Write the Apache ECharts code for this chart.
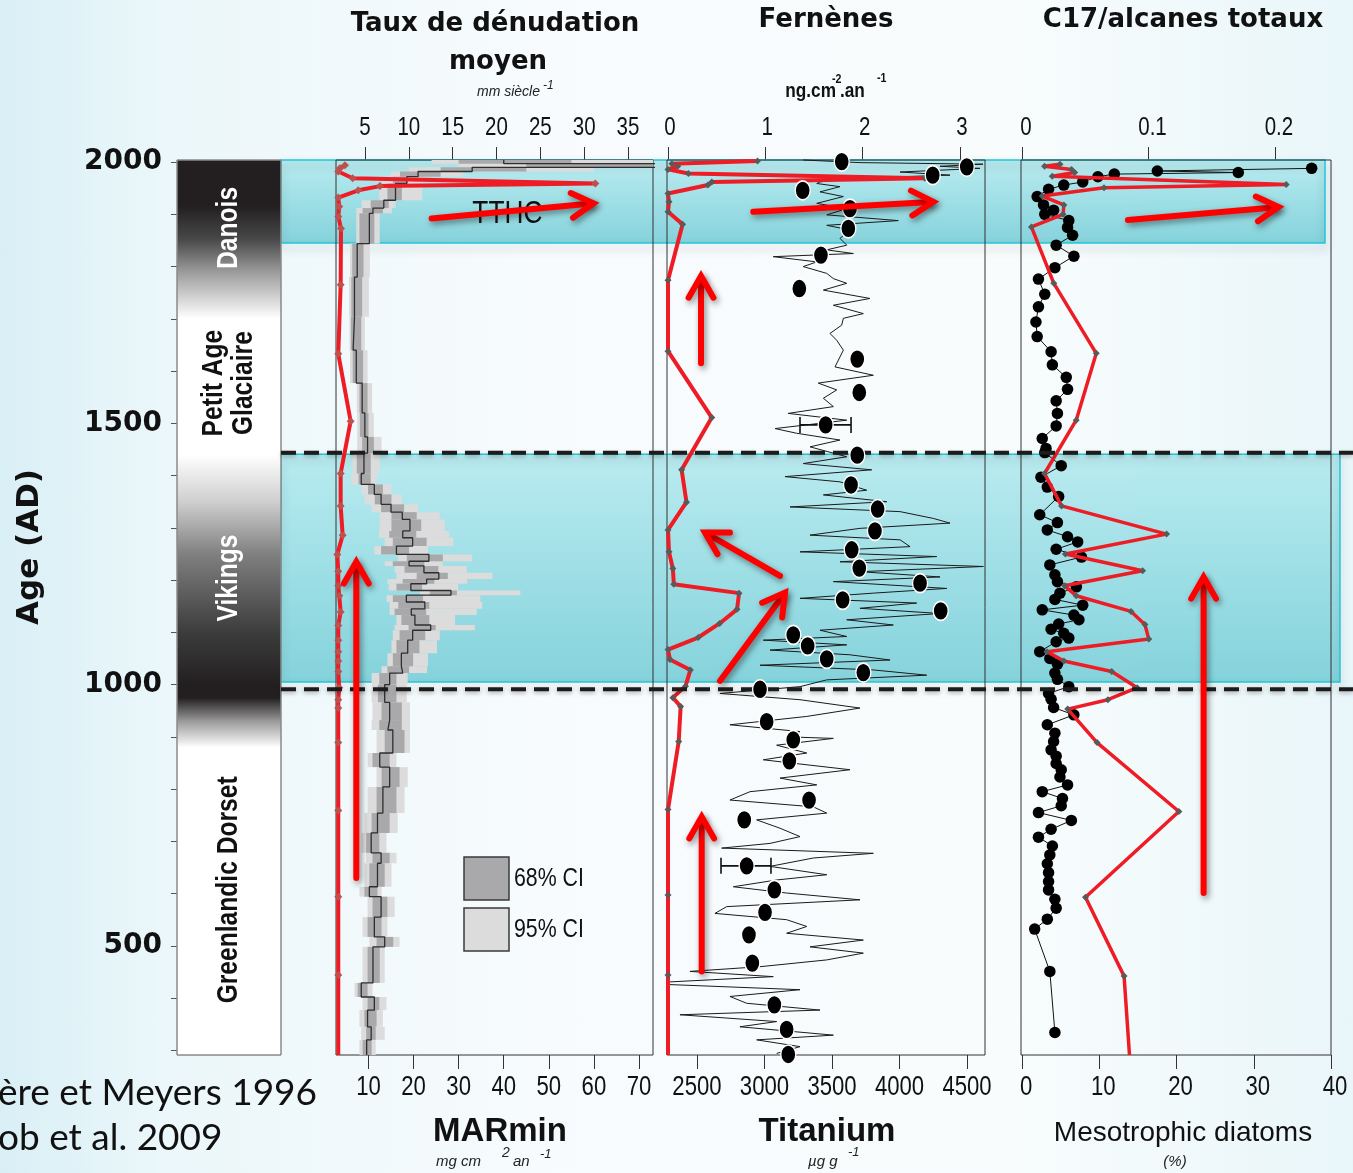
<!DOCTYPE html>
<html><head><meta charset="utf-8">
<script src="https://cdn.jsdelivr.net/npm/echarts@6/dist/echarts.min.js"></script>
<style>
html,body{margin:0;padding:0;width:1353px;height:1173px;overflow:hidden;
background:linear-gradient(90deg,#d9eff6 0%,#ebf7fa 12%,#f7fbfd 40%,#f8fcfd 75%,#e9f6f9 100%);}
#c{width:1353px;height:1173px;}
</style></head><body><div id="c"></div>
<script>
// ================= DATA =================
const AGE_MIN = 291, AGE_MAX = 2004;
const ageTicks = [300,400,500,600,700,800,900,1000,1100,1200,1300,1400,1500,1600,1700,1800,1900,2000];
const ageLabels = [500,1000,1500,2000];

const tauxTicks = [5,10,15,20,25,30,35];
const marTicks = [10,20,30,40,50,60,70];
const fernTicks = [0,1,2,3];
const tiTicks = [2500,3000,3500,4000,4500];
const c17Ticks = [0,0.1,0.2];
const diaTicks = [0,10,20,30,40];

// cultural periods
const periodNames = ['Danois','Petit Age\nGlaciaire','Vikings','Greenlandic Dorset'];
const periodLabelAge = [1874,1577,1204,607];
const shadeAge = [2004,1915,1850,1790,1700,1440,1350,1250,1100,1000,975,930,880,291];

// highlighted intervals & boundaries
const bandAges = [[2004,1845],[1441,1005]];
const dashAges = [1443.5,991];

// Panel 1 : Taux de dénudation moyen (mm/siècle)
const tauxAge = [1994,1988,1982,1969,1959,1954,1946,1932,1915,1896,1873,1765,1633,1504,1404,1342,1286,1249,1217,1189,1170,1139,1113,1085,1063,1045,1025,994,971,955,889,759,594,444,291];
const tauxVal = [2.71,2.14,1.95,3.59,31.27,6.71,4.23,1.95,2.06,1.95,2.26,2.22,1.95,3.36,2.22,2.22,2.45,1.84,1.95,1.95,2.06,2.22,1.95,1.95,1.95,1.95,1.95,2.06,1.95,1.95,1.95,1.95,1.95,1.95,1.95];

// Panel 1 : MARmin median + confidence intervals (age bins)
const marEdges = [2004,1997,1990,1982,1972,1959,1927,1912,1902,1844,1780,1704,1640,1577,1520,1474,1443,1404,1383,1364,1345,1330,1316,1294,1281,1265,1249,1236,1227,1214,1202,1193,1180,1171,1158,1145,1133,1114,1104,1085,1060,1035,1022,1000,966,932,913,869,842,804,754,716,678,658,613,594,555,517,498,429,402,377,345,320,291];
const marMed = [40,74,33,21,18.5,16,13.4,11,10.2,7.5,6.9,6.6,7.3,8.6,9.2,9.8,9.0,8.4,11.3,12.8,15,17.5,19.2,17.6,19.8,16.2,23.4,19.0,22.3,25.6,22.9,19.4,28.3,18.4,22.5,19.5,20.3,23.8,19.8,18.7,17.3,17.6,14.7,13.6,14.7,14.3,15.4,12.5,14.7,13.2,12.0,10.6,12.8,12.0,10.2,12.8,11.3,13.6,11.0,8.4,11.3,9.8,10.6,9.6];
const mar68lo = [30,45,26,17,15.4,14.2,10.5,8.7,8.0,6.4,6.2,6.1,6.5,8.0,8.1,8.6,7.4,7.8,9.9,11.4,12.8,15.1,15.1,14.6,15.4,12.8,18.5,15.4,18.0,20.7,17.6,16.2,23.6,15.4,16.6,15.8,17.3,18.9,16.9,16.2,15.4,14.2,12.4,12.1,12.9,12.4,13.6,10.9,12.9,11.8,10.7,9.5,10.9,10.2,9.1,10.9,9.8,11.8,9.8,7.6,9.8,9.1,9.5,8.7];
const mar68hi = [55,75,45,26,18.8,17.4,14.5,13.2,11.3,8.9,8.6,8.4,8.8,9.8,10.0,11.2,10.5,10.5,13.2,15.1,17.9,20.7,21.7,20.6,22.9,19.0,26.5,22.4,25.5,27.6,24.6,21.9,29.6,22.1,23.5,22.8,23.5,24.9,22.6,21.3,19.9,19.0,16.2,16.2,17.4,17.4,18.0,14.7,16.9,16.2,14.7,12.4,14.7,13.6,12.0,14.2,12.9,15.5,12.5,9.8,12.4,11.8,11.6,10.7];
const mar95lo = [24,30,19,15,13,12.4,8.5,7.3,7.3,5.9,5.7,5.8,5.9,7.4,7.5,7.5,6.5,6.2,8.4,9.1,10.7,12.5,12.5,12.3,13.6,11.3,16.5,13.6,15.8,16.2,14.2,14.5,21.4,14.0,14.7,14.7,16.2,15.8,15.4,15.1,14.2,12.9,10.7,10.7,10.9,10.7,11.8,9.8,11.8,9.8,9.1,8.4,9.5,9.1,8.0,9.8,8.7,10.2,8.7,6.9,8.7,8.0,8.4,8.0];
const mar95hi = [75,75,60,31,22,21.9,16,15.2,12.5,10.3,10.1,9.2,9.8,10.8,11.2,12.9,12.5,11.8,15.1,17.4,21,25.8,26.9,27.9,28.8,23.2,33.0,26.5,31.8,37.5,31.9,29.9,43.7,34.8,35.2,34.0,29.2,33.6,25.8,25.2,23.2,23.0,18.7,18.5,19.2,19.2,19.2,16.2,18.7,18.0,16.5,14.0,16.2,15.1,12.9,15.8,14.2,16.9,13.6,10.9,14.0,13.2,13.6,11.6];

// Panel 2 : Fernènes (ng cm-2 an-1)
const fernAge = [2002,1997,1992,1986,1978,1969,1962,1956,1940,1924,1905,1881,1774,1638,1511,1411,1349,1296,1254,1222,1192,1175,1144,1117,1090,1067,1048,1028,997,975,958,891,761,597,444,291];
const fernVal = [0.92,0.04,0.10,0,0.21,2.64,0.45,0.41,0,0.01,0,0.15,0,0,0.45,0.14,0.19,0,0.01,0.05,0.06,0.73,0.71,0.53,0.31,0,0.02,0.23,0.18,0.05,0.13,0.11,0,0,0,0];

// Panel 2 : Titanium (µg/g) high-resolution record
const tiAge = [2004,1999,1996,1992,1988,1981,1975,1969,1962,1959,1953,1943,1934,1921,1911,1899,1888,1879,1870,1854,1841,1832,1825,1819,1809,1800,1787,1777,1768,1755,1739,1726,1710,1701,1688,1672,1659,1640,1608,1592,1577,1564,1548,1532,1519,1506,1490,1481,1468,1455,1436,1423,1411,1398,1388,1372,1363,1350,1340,1331,1318,1309,1299,1286,1277,1264,1254,1245,1235,1226,1216,1206,1197,1184,1175,1165,1156,1146,1136,1124,1114,1104,1092,1085,1076,1066,1057,1047,1037,1028,1018,1009,996,983,971,955,939,923,910,900,897,884,869,856,837,821,808,795,779,766,754,741,725,709,696,687,677,668,652,636,626,613,601,588,575,562,550,537,524,511,498,486,473,460,451,441,428,416,403,390,377,368,355,345,329,320,307,294];
const tiVal = [3287,3707,4618,4300,4596,4004,4374,3633,3411,3387,3559,3411,3584,3387,3609,3461,3991,3461,3633,3559,3609,3461,3658,3065,3387,3287,3461,3510,3609,3436,3781,3510,3732,3584,3572,3485,3535,3584,3522,3806,3398,3535,3436,3510,3176,3609,3078,3238,3559,3337,3609,3287,3794,3152,3559,3757,3436,3905,3189,4004,4250,4374,3707,3337,4004,4078,3263,4275,3559,4621,3707,4300,3510,4350,3806,3263,4127,3707,4300,3609,3954,3411,3609,2991,3609,3041,3633,3930,2967,3806,4201,3461,3263,2670,3263,3707,3313,2744,3263,3164,3510,3090,3313,2991,3633,3115,3387,2893,2744,3361,3461,2942,3115,3263,3041,2683,3806,3361,3041,3461,3090,2769,3164,3707,2720,2633,3164,3313,3164,3732,3337,3732,3461,2967,2448,3065,2078,3263,2744,2868,3411,2374,3090,2818,3510,2942,3263,3090];

// Panel 2 : Titanium dated samples (dots) and two error bars
const dotAge = [2001,1991,1975,1946,1911,1873,1822,1758,1623,1559,1497,1439,1382,1336,1294,1258,1223,1194,1162,1141,1095,1074,1049,1023,991,929,894,854,779,741,653,607,564,521,467,387,340,292];
const dotTi = [3572,4498,4246,3283,3633,3621,3418,3258,3687,3702,3453,3687,3641,3838,3818,3646,3702,4152,3579,4305,3213,3320,3461,3732,2967,3016,3213,3184,3330,2850,2868,3073,3004,2885,2910,3073,3164,3176];
const errAge = [1497,653];
const errLo = [3263,2678];
const errHi = [3641,3048];

// Panel 3 : C17 / alcanes totaux
const c17Age = [1988,1983,1980,1977,1972,1962,1956,1948,1934,1918,1908,1900,1888,1875,1860,1841,1820,1798,1776,1747,1723,1694,1666,1637,1612,1588,1565,1543,1519,1495,1471,1452,1444,1419,1397,1378,1360,1325,1310,1296,1283,1273,1259,1244,1229,1210,1197,1187,1175,1163,1152,1143,1133,1124,1116,1106,1098,1089,1082,1063,1050,1039,1022,1010,996,983,972,956,942,923,907,891,875,863,849,837,823,808,795,782,768,755,740,723,708,691,674,657,640,623,607,589,572,551,532,451,334];
const c17Val = [0.229,0.107,0.171,0.073,0.060,0.048,0.033,0.021,0.012,0.017,0.025,0.018,0.037,0.036,0.040,0.027,0.041,0.026,0.013,0.018,0.013,0.011,0.012,0.023,0.024,0.035,0.036,0.027,0.028,0.027,0.016,0.019,0.018,0.031,0.015,0.020,0.029,0.014,0.028,0.020,0.036,0.044,0.027,0.047,0.022,0.026,0.028,0.043,0.030,0.026,0.048,0.016,0.041,0.045,0.029,0.023,0.033,0.037,0.027,0.014,0.022,0.028,0.026,0.028,0.037,0.021,0.023,0.025,0.041,0.020,0.026,0.025,0.023,0.027,0.027,0.031,0.030,0.036,0.016,0.032,0.031,0.013,0.039,0.023,0.013,0.024,0.022,0.020,0.021,0.021,0.021,0.026,0.027,0.020,0.010,0.022,0.026];

// Panel 3 : Mesotrophic diatoms (%)
const diaAge = [1996,1992,1986,1980,1973,1957,1951,1935,1918,1900,1876,1768,1634,1506,1404,1342,1288,1250,1218,1189,1170,1140,1115,1087,1063,1045,1025,994,971,953,889,757,593,442,291];
const diaVal = [4.9,2.9,6.4,6.8,3.9,34.2,10.6,2.6,5.4,5.3,1.2,4.1,9.6,7.0,2.9,5.1,18.7,5.6,15.6,5.5,7.0,14.1,15.9,16.4,3.2,5.4,11.6,14.9,11.1,5.9,9.7,20.3,8.2,13.2,13.9];

// Annotation arrows [xStart, ageStart, xEnd, ageEnd] in each panel's bottom-axis units
const arrows1 = [[24.0,1892,59.9,1921],[7.3,630,7.3,1235]];
const arrows2 = [[2917,1905,4250,1924],[2530,1615,2530,1782],[3115,1208,2559,1291],[2670,1007,3152,1176],[2535,451,2535,747]];
const arrows3 = [[13.7,1889,33.2,1914],[23.5,601,23.5,1206]];
const tthcPos = [40.8,1900];

// ================= STYLE / BUILD =================
const SANS = '"Liberation Sans",Arial,sans-serif';
const NX = 0.82; // horizontal squeeze to imitate a narrow face
const shadeCol = ['#231f20','#231f20','#4a4a4a','#9a9a9a','#ffffff','#ffffff','#cfcfcf','#808080','#3c3c3c','#231f20','#231f20','#9a9a9a','#ffffff','#ffffff'];
const periodTextCol = ['#ffffff','#111111','#ffffff','#111111'];
const RED = '#ee1c24';

const chart = echarts.init(document.getElementById('c'));

function axisX(grid, pos, min, max, ticks) {
  return {
    gridIndex: grid, type: 'value', position: pos, min: min, max: max,
    splitLine: {show: false},
    axisLine: {show: false, onZero: false},
    axisTick: {show: true, customValues: ticks, length: pos === 'top' ? 13 : 14, lineStyle: {color: '#333', width: 1}},
    axisLabel: {show: false, customValues: ticks}
  };
}
function hiddenY(grid) {
  return {gridIndex: grid, type: 'value', min: AGE_MIN, max: AGE_MAX, show: false, splitLine: {show: false}};
}
function pairs(xs, ys) { return xs.map((x, i) => [x, ys[i]]); }
function profile(vals, ages) {
  const last = ages.length - 1;
  return vals.map((v, i) => i === last ? {value: [v, ages[i]], symbol: 'none'} : [v, ages[i]]);
}
function clipRect(shape, cs) {
  return echarts.graphic.clipRectByRect(shape, {x: cs.x, y: cs.y, width: cs.width, height: cs.height});
}
function ciRender(params, api) {
  const p0 = api.coord([api.value(0), api.value(1)]);
  const p1 = api.coord([api.value(2), api.value(3)]);
  const shape = clipRect({x: p0[0], y: p0[1], width: p1[0] - p0[0], height: p1[1] - p0[1]}, params.coordSys);
  if (!shape) return;
  return {type: 'rect', shape: shape, style: api.style()};
}
function arrowRender(params, api) {
  const p0 = api.coord([api.value(0), api.value(1)]);
  const p1 = api.coord([api.value(2), api.value(3)]);
  const ang = Math.atan2(p1[1] - p0[1], p1[0] - p0[0]);
  const L = 25, A = 0.52;
  const h1 = [p1[0] - L * Math.cos(ang - A), p1[1] - L * Math.sin(ang - A)];
  const h2 = [p1[0] - L * Math.cos(ang + A), p1[1] - L * Math.sin(ang + A)];
  const st = {stroke: '#ff0000', fill: null, lineWidth: 6, lineCap: 'round', lineJoin: 'miter',
    shadowBlur: 6, shadowColor: 'rgba(0,0,0,0.45)', shadowOffsetX: 2, shadowOffsetY: 3};
  return {type: 'group', children: [
    {type: 'line', shape: {x1: p0[0], y1: p0[1], x2: p1[0] - 2 * Math.cos(ang), y2: p1[1] - 2 * Math.sin(ang)}, style: st},
    {type: 'polyline', shape: {points: [h1, p1, h2]}, style: st}
  ]};
}

const ci95Data = marMed.map((m, i) => [mar95lo[i], marEdges[i], mar95hi[i], marEdges[i + 1]]);
const ci68Data = marMed.map((m, i) => [mar68lo[i], marEdges[i], mar68hi[i], marEdges[i + 1]]);
const medData = [];
marMed.forEach((m, i) => { medData.push([m, marEdges[i]]); medData.push([m, marEdges[i + 1]]); });

const option = {
  animation: false,
  backgroundColor: 'transparent',
  grid: [
    {left: 177, top: 160, width: 104, height: 895, show: false},
    {left: 336, top: 160, width: 317, height: 895, show: true, z: 2, borderColor: '#333', borderWidth: 1, backgroundColor: 'transparent'},
    {left: 667, top: 160, width: 318, height: 895, show: true, z: 2, borderColor: '#333', borderWidth: 1, backgroundColor: 'transparent'},
    {left: 1021, top: 160, width: 310, height: 895, show: true, z: 2, borderColor: '#333', borderWidth: 1, backgroundColor: 'transparent'},
    {left: 281, top: 160, width: 1072, height: 895, show: false}
  ],
  xAxis: [
    {gridIndex: 0, type: 'value', min: 0, max: 1, show: false},
    axisX(1, 'top', 1.69, 37.85, tauxTicks),
    axisX(1, 'bottom', 2.8, 73.1, marTicks),
    axisX(2, 'top', -0.0103, 3.258, fernTicks),
    axisX(2, 'bottom', 2278, 4633, tiTicks),
    axisX(3, 'top', -0.0008, 0.2443, c17Ticks),
    axisX(3, 'bottom', -0.15, 40, diaTicks),
    {gridIndex: 4, type: 'value', min: 0, max: 1, show: false}
  ],
  yAxis: [
    {gridIndex: 0, type: 'value', min: AGE_MIN, max: AGE_MAX, splitLine: {show: false},
      axisLine: {show: false, onZero: false},
      axisTick: {show: true, customValues: ageTicks, length: 6, lineStyle: {color: '#555'}},
      axisLabel: {customValues: ageLabels, margin: 15, fontFamily: '"DejaVu Sans",sans-serif', fontWeight: 'bold', fontSize: 28, color: '#111',
        formatter: v => String(v)}},
    hiddenY(1), hiddenY(2), hiddenY(3), hiddenY(4)
  ],
  series: [
    // cultural period bar
    {type: 'custom', xAxisIndex: 0, yAxisIndex: 0, z: 3, data: [[0.5, 1000]], silent: true,
      renderItem: function (params, api) {
        const cs = params.coordSys;
        const stops = shadeAge.map((a, i) => ({offset: Math.min(1, Math.max(0, (AGE_MAX - a) / (AGE_MAX - AGE_MIN))), color: shadeCol[i]}));
        const children = [{type: 'rect', shape: {x: cs.x, y: cs.y, width: cs.width, height: cs.height},
          style: {fill: new echarts.graphic.LinearGradient(0, 0, 0, 1, stops), stroke: '#8a8a8a', lineWidth: 1}}];
        periodNames.forEach((n, i) => {
          const p = api.coord([0.5, periodLabelAge[i]]);
          children.push({type: 'text', x: p[0], y: p[1], rotation: Math.PI / 2, scaleX: NX,
            style: {text: n, fill: periodTextCol[i], font: 'bold 30px ' + SANS, align: 'center', verticalAlign: 'middle', lineHeight: 30}});
        });
        return {type: 'group', children: children};
      }},
    // cyan bands
    {type: 'custom', xAxisIndex: 7, yAxisIndex: 4, z: 1, silent: true,
      data: bandAges.map(b => [0, b[0], b[1]]),
      renderItem: function (params, api) {
        const cs = params.coordSys;
        const y0 = api.coord([0, api.value(1)])[1], y1 = api.coord([0, api.value(2)])[1];
        const right = cs.x + cs.width - (params.dataIndex === 0 ? 28 : 13);
        return {type: 'rect', shape: {x: cs.x, y: y0, width: right - cs.x, height: y1 - y0},
          style: {fill: new echarts.graphic.LinearGradient(0, 0, 0, 1, [{offset: 0, color: 'rgba(180,234,239,0.93)'}, {offset: 1, color: 'rgba(124,207,217,0.93)'}]),
            stroke: '#22c6d6', lineWidth: 1.5, shadowBlur: 10, shadowColor: 'rgba(0,0,0,0.3)', shadowOffsetY: 5}};
      }},
    // dashed boundaries
    {type: 'custom', xAxisIndex: 7, yAxisIndex: 4, z: 6, silent: true,
      data: dashAges.map(a => [0, a]),
      renderItem: function (params, api) {
        const cs = params.coordSys;
        const y = api.coord([0, api.value(1)])[1];
        return {type: 'line', shape: {x1: cs.x, y1: y, x2: cs.x + cs.width, y2: y},
          style: {stroke: '#1c1c1c', lineWidth: 4, lineDash: [15, 8], shadowBlur: 4, shadowColor: 'rgba(0,0,0,0.25)', shadowOffsetY: 2}};
      }},
    // MARmin CIs
    {name: '95% CI', type: 'custom', xAxisIndex: 2, yAxisIndex: 1, z: 3, silent: true,
      itemStyle: {color: '#dcdcdd'}, data: ci95Data, renderItem: ciRender},
    {name: '68% CI', type: 'custom', xAxisIndex: 2, yAxisIndex: 1, z: 3, silent: true,
      itemStyle: {color: '#a9a9ab'}, data: ci68Data, renderItem: ciRender},
    {type: 'line', xAxisIndex: 2, yAxisIndex: 1, z: 4, data: medData, symbol: 'none', silent: true,
      lineStyle: {color: '#2e2e2e', width: 1.3}},
    // Taux de dénudation
    {type: 'line', xAxisIndex: 1, yAxisIndex: 1, z: 5, data: profile(tauxVal, tauxAge), symbol: 'diamond', symbolSize: 8,
      lineStyle: {color: RED, width: 4}, itemStyle: {color: '#c0504d'}, silent: true},
    // TTHC label
    {type: 'custom', xAxisIndex: 2, yAxisIndex: 1, z: 7, silent: true, data: [tthcPos],
      renderItem: function (params, api) {
        const p = api.coord([api.value(0), api.value(1)]);
        return {type: 'text', x: p[0], y: p[1], scaleX: NX, style: {text: 'TTHC', fill: '#111', font: '32px ' + SANS, align: 'center', verticalAlign: 'middle'}};
      }},
    {type: 'custom', xAxisIndex: 2, yAxisIndex: 1, z: 8, silent: true, data: arrows1, renderItem: arrowRender},
    // Titanium record
    {type: 'line', xAxisIndex: 4, yAxisIndex: 2, z: 4, data: pairs(tiVal, tiAge), symbol: 'none', clip: false, silent: true,
      lineStyle: {color: '#1a1a1a', width: 1}},
    // error bars
    {type: 'custom', xAxisIndex: 4, yAxisIndex: 2, z: 5, silent: true,
      data: errAge.map((a, i) => [errLo[i], a, errHi[i]]),
      renderItem: function (params, api) {
        const p0 = api.coord([api.value(0), api.value(1)]), p1 = api.coord([api.value(2), api.value(1)]);
        const st = {stroke: '#111', lineWidth: 1.6};
        return {type: 'group', children: [
          {type: 'line', shape: {x1: p0[0], y1: p0[1], x2: p1[0], y2: p1[1]}, style: st},
          {type: 'line', shape: {x1: p0[0], y1: p0[1] - 8, x2: p0[0], y2: p0[1] + 8}, style: st},
          {type: 'line', shape: {x1: p1[0], y1: p1[1] - 8, x2: p1[0], y2: p1[1] + 8}, style: st}]};
      }},
    // Ti dated dots
    {type: 'scatter', xAxisIndex: 4, yAxisIndex: 2, z: 6, data: pairs(dotTi, dotAge), symbol: 'circle', symbolSize: [15, 19], silent: true,
      itemStyle: {color: '#000', borderColor: '#fff', borderWidth: 1.5, opacity: 1}},
    // Fernènes
    {type: 'line', xAxisIndex: 3, yAxisIndex: 2, z: 5, data: profile(fernVal, fernAge), symbol: 'diamond', symbolSize: 7,
      lineStyle: {color: RED, width: 4}, itemStyle: {color: '#5a5a5a'}, silent: true},
    {type: 'custom', xAxisIndex: 4, yAxisIndex: 2, z: 8, silent: true, data: arrows2, renderItem: arrowRender},
    // C17 / alcanes totaux
    {type: 'line', xAxisIndex: 5, yAxisIndex: 3, z: 4, data: pairs(c17Val, c17Age), symbol: 'circle', symbolSize: 11.5, silent: true,
      lineStyle: {color: '#111', width: 1}, itemStyle: {color: '#000'}},
    // Mesotrophic diatoms
    {type: 'line', xAxisIndex: 6, yAxisIndex: 3, z: 5, data: profile(diaVal, diaAge), symbol: 'diamond', symbolSize: 7,
      lineStyle: {color: RED, width: 3.5}, itemStyle: {color: '#5a5a5a'}, silent: true},
    {type: 'custom', xAxisIndex: 6, yAxisIndex: 3, z: 8, silent: true, data: arrows3, renderItem: arrowRender}
  ]
};
chart.setOption(option);

// ---------- texts (titles, units, tick labels, legend) ----------
function T(text, x, y, font, opts) {
  opts = opts || {};
  return {type: 'text', x: x, y: y, rotation: opts.rot || 0, scaleX: opts.sx || 1, silent: true, z: 20,
    style: {text: text, font: font, fill: opts.fill || '#111', textAlign: opts.align || 'center', textVerticalAlign: 'middle'}};
}
const g = [
  T('Age (AD)', 30, 547, 'bold 31px "DejaVu Sans"', {rot: Math.PI / 2}),
  T('Taux de dénudation', 495, 24, 'bold 26px "DejaVu Sans"'),
  T('moyen', 498, 62, 'bold 26px "DejaVu Sans"'),
  T('mm siècle', 540, 92, 'italic 14px ' + SANS, {align: 'right', fill: '#222'}),
  T('-1', 543, 86, 'italic 12px ' + SANS, {align: 'left', fill: '#222'}),
  T('Fernènes', 826, 20, 'bold 26px "DejaVu Sans"'),
  T('ng.cm', 836, 91, 'bold 21px ' + SANS, {align: 'right', sx: NX}),
  T('-2', 832, 79, 'bold 13px ' + SANS, {align: 'left', sx: NX}),
  T('.an', 840, 91, 'bold 21px ' + SANS, {align: 'left', sx: NX}),
  T('-1', 877, 78, 'bold 13px ' + SANS, {align: 'left', sx: NX}),
  T('C17/alcanes totaux', 1183, 20, 'bold 26px "DejaVu Sans"'),
  T('MARmin', 500, 1132, 'bold 33px ' + SANS),
  T('mg cm', 436, 1162, 'italic 15px ' + SANS, {align: 'left', fill: '#222'}),
  T('2', 502, 1153, 'italic 14px ' + SANS, {align: 'left', fill: '#222'}),
  T('an', 513, 1162, 'italic 15px ' + SANS, {align: 'left', fill: '#222'}),
  T('-1', 540, 1154, 'italic 13px ' + SANS, {align: 'left', fill: '#222'}),
  T('Titanium', 827, 1132, 'bold 33px ' + SANS),
  T('µg g', 808, 1162, 'italic 15px ' + SANS, {align: 'left', fill: '#222'}),
  T('-1', 848, 1152, 'italic 13px ' + SANS, {align: 'left', fill: '#222'}),
  T('Mesotrophic diatoms', 1183, 1133, '28px ' + SANS),
  T('(%)', 1175, 1162, 'italic 15px ' + SANS, {fill: '#222'}),
  T('ère et Meyers 1996', -2, 1093, '37px Lato', {align: 'left'}),
  T('ob et al. 2009', -2, 1138, '37px Lato', {align: 'left'}),
  // legend for the MARmin confidence intervals
  {type: 'rect', silent: true, z: 20, shape: {x: 464, y: 857, width: 45, height: 43}, style: {fill: '#a9a9ab', stroke: '#3a3a3a', lineWidth: 1.5}},
  {type: 'rect', silent: true, z: 20, shape: {x: 464, y: 908, width: 45, height: 43}, style: {fill: '#dcdcdd', stroke: '#3a3a3a', lineWidth: 1.5}},
  T('68% CI', 514, 879, '26px ' + SANS, {align: 'left', sx: NX}),
  T('95% CI', 514, 930, '26px ' + SANS, {align: 'left', sx: NX})
];
function tickLabels(axisIndex, ticks, y, size, dx) {
  ticks.forEach(v => {
    const x = chart.convertToPixel({xAxisIndex: axisIndex}, v);
    g.push(T(String(v), x + (dx || 0), y, size + 'px ' + SANS, {sx: NX}));
  });
}
tickLabels(1, tauxTicks, 128, 25);
tickLabels(2, marTicks, 1088, 27);
tickLabels(3, fernTicks, 128, 25, 2);
tickLabels(4, tiTicks, 1088, 27);
tickLabels(5, c17Ticks, 128, 25, 4);
tickLabels(6, diaTicks, 1088, 27, 4);
chart.setOption({graphic: g});
</script>
</body></html>
